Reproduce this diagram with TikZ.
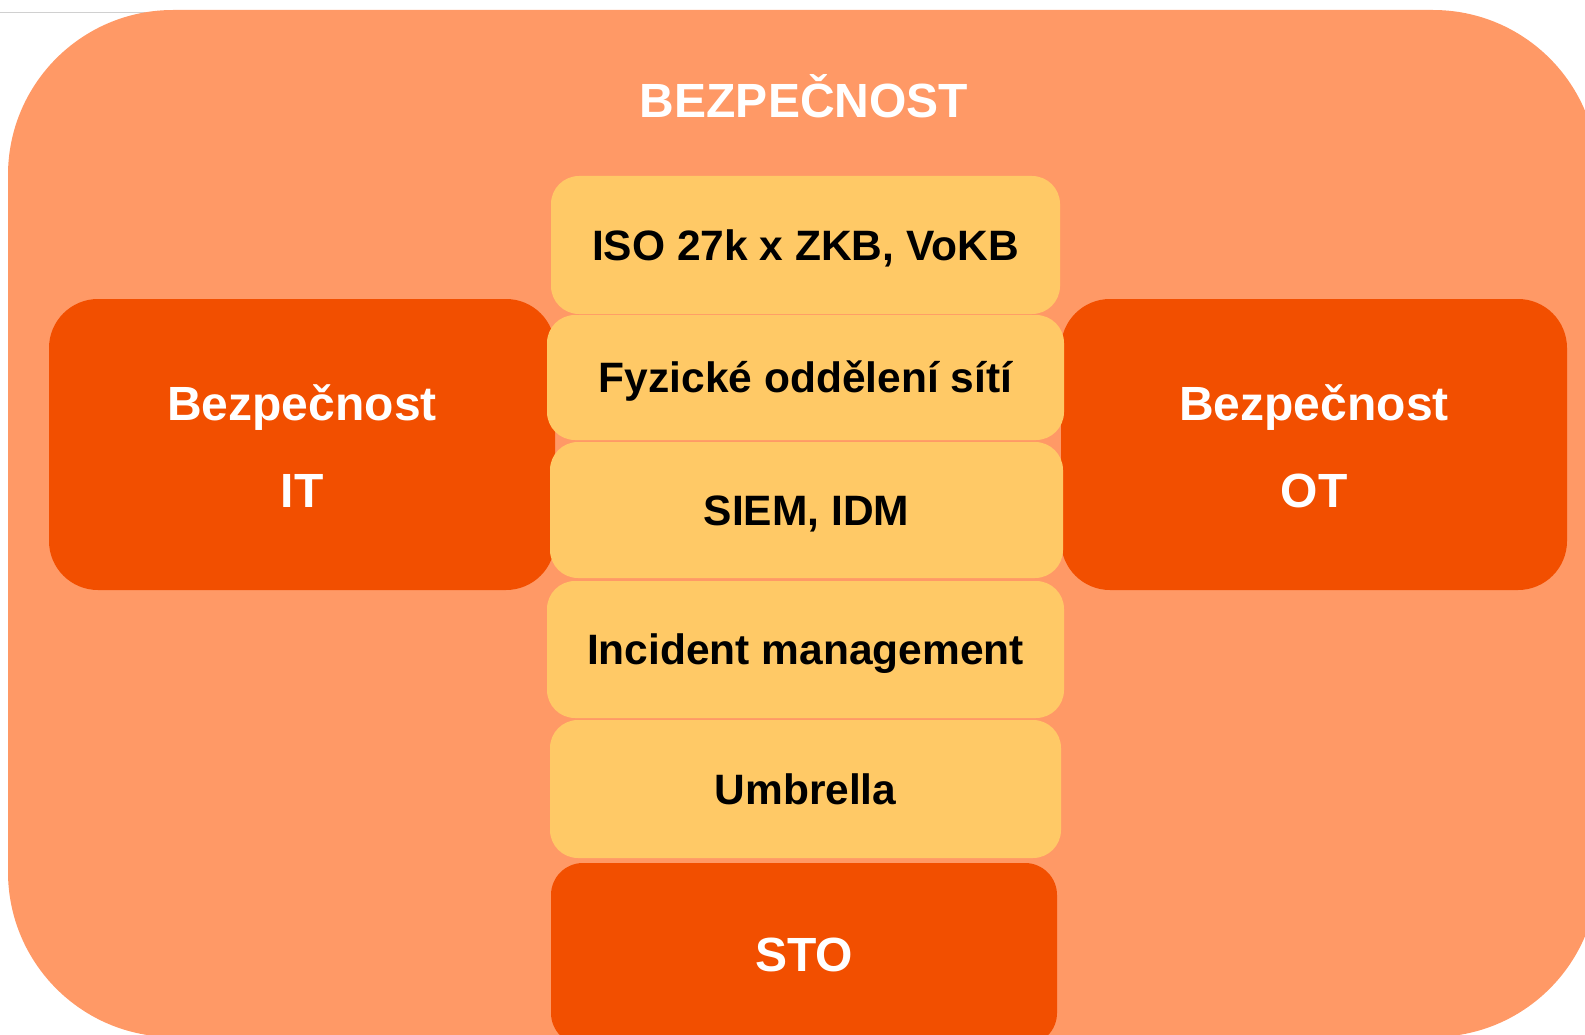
\documentclass[tikz,border=0pt]{standalone}
\usepackage{fontspec}
\setmainfont{Liberation Sans}
\definecolor{bgor}{HTML}{FF9966}
\definecolor{dkor}{HTML}{F24F00}
\definecolor{yel}{HTML}{FFC966}
\definecolor{edgegray}{HTML}{D0D0D0}
\begin{document}
\begin{tikzpicture}[x=1pt,y=-1pt,
  outerbox/.style={fill=bgor, draw=none, rounded corners=165pt, inner sep=0pt},
  sidebox/.style={fill=dkor, draw=none, rounded corners=49pt, inner sep=0pt},
  layerbox/.style={fill=yel, draw=none, rounded corners=28pt, inner sep=0pt, text=black,
    font=\fontsize{42.5}{50}\selectfont\bfseries, text height=30.5pt, text depth=0pt},
  stobox/.style={fill=dkor, draw=none, rounded corners=32pt, inner sep=0pt, text=white,
    font=\fontsize{48}{56}\selectfont\bfseries, text height=34.4pt, text depth=0pt},
  whitetxt/.style={text=white, font=\fontsize{48}{56}\selectfont\bfseries, inner sep=0pt, anchor=base}
]
\useasboundingbox (0,0) rectangle (1585,1035);
\clip (0,0) rectangle (1585,1035);
\coordinate (ga) at (0,13);
\coordinate (gb) at (170,13);
\draw[edgegray, line width=1pt] (ga) -- (gb);
\node[outerbox, minimum width=1590pt, minimum height=1027pt] (outer) at (803,523.5) {};
\node[whitetxt] (title) at (804,118) {BEZPEČNOST};
% side boxes
\node[sidebox, minimum width=506pt, minimum height=291pt] (itbox) at (302,444.5) {};
\node[whitetxt] (itl1) at (302,420) {Bezpečnost};
\node[whitetxt] (itl2) at (302,507) {IT};
\node[sidebox, minimum width=506pt, minimum height=291pt] (otbox) at (1314,444.5) {};
\node[whitetxt] (otl1) at (1314,420) {Bezpečnost};
\node[whitetxt] (otl2) at (1314,507) {OT};
% central layers
\node[layerbox, minimum width=509pt, minimum height=138pt] (iso) at (805.5,245) {ISO 27k x ZKB, VoKB};
\node[layerbox, minimum width=517pt, minimum height=125pt] (fyz) at (805.5,377.5) {Fyzické oddělení sítí};
\node[layerbox, minimum width=513pt, minimum height=136pt] (siem) at (806.5,510) {SIEM, IDM};
\node[layerbox, minimum width=517pt, minimum height=137pt] (inc) at (805.5,649.5) {Incident management};
\node[layerbox, minimum width=511pt, minimum height=138pt] (umb) at (805.5,789) {Umbrella};
\node[stobox, minimum width=506pt, minimum height=182pt] (sto) at (804,954) {STO};
\end{tikzpicture}
\end{document}
